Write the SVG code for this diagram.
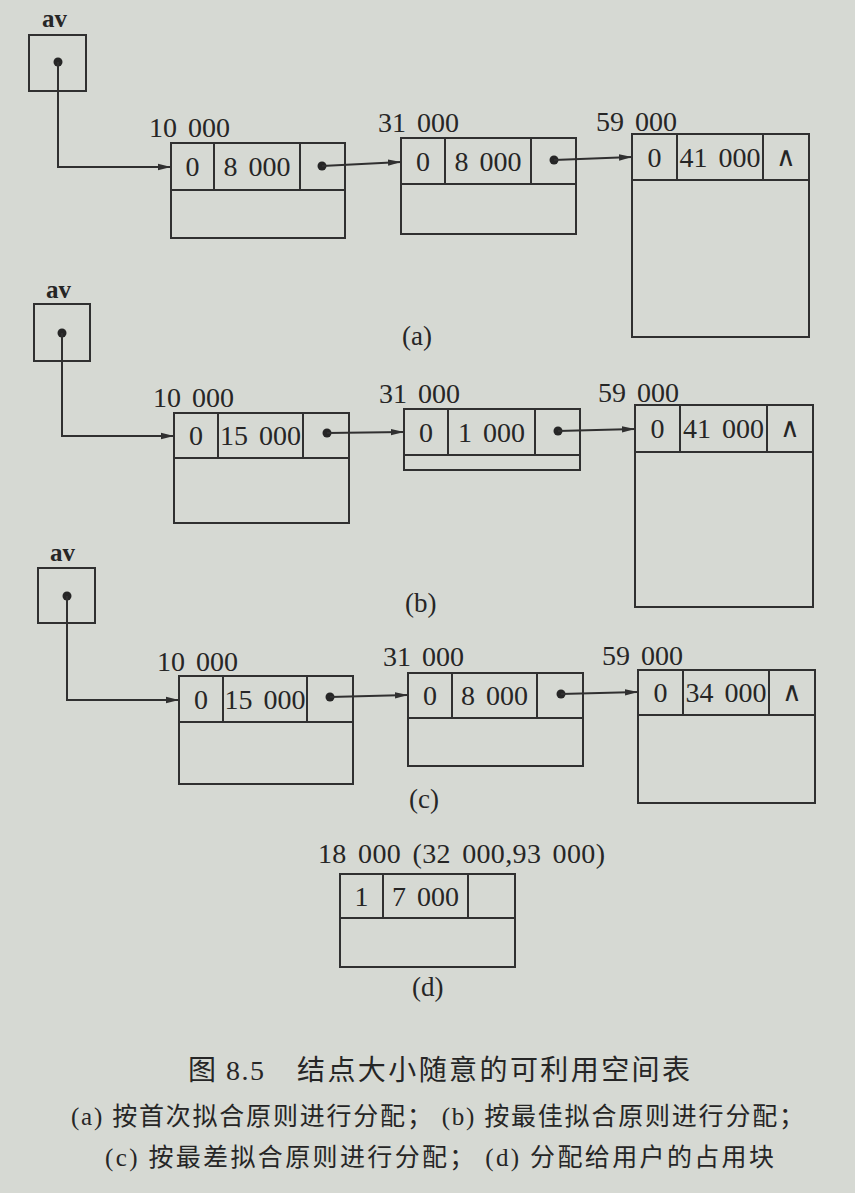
<svg xmlns="http://www.w3.org/2000/svg" width="855" height="1193" viewBox="0 0 855 1193">
<style>
.bg{fill:#d6d9d3}
.box{fill:none;stroke:#303030;stroke-width:2}
.conn{fill:none;stroke:#303030;stroke-width:2}
.num{font-family:"Liberation Serif",serif;font-size:28px;fill:#262626;word-spacing:4px}
.c{text-anchor:middle}
.nil{font-family:"DejaVu Serif",serif;font-size:27px;fill:#262626;text-anchor:middle}
.av{font-family:"Liberation Serif",serif;font-weight:bold;font-size:25px;fill:#262626}
.sub{font-family:"Liberation Serif",serif;font-size:27px;fill:#262626}
.cap{font-family:"Liberation Serif","Noto Sans CJK SC",sans-serif;fill:#262626}
.dot{fill:#262626}
</style>
<defs>
<marker id="ah" markerUnits="userSpaceOnUse" markerWidth="14" markerHeight="8" refX="13" refY="4" orient="auto">
<path d="M0,0.8 L13,4 L0,7.2 z" fill="#303030"/>
</marker>
</defs>
<rect class="bg" x="0" y="0" width="855" height="1193"/>

<!-- (a) -->
<g id="a-av">
<text class="av" x="42" y="27">av</text>
<rect class="box" x="29" y="35" width="57" height="56"/>
<circle class="dot" cx="58" cy="62" r="4.5"/>
</g>
<g id="a-n1">
<text class="num" x="149" y="137">10 000</text>
<rect class="box" x="171" y="143" width="174" height="95"/>
<path class="box" d="M171,190 H345 M214,143 V190 M300,143 V190"/>
<text class="num c" x="192.5" y="176">0</text>
<text class="num c" x="257" y="176">8 000</text>
<circle class="dot" cx="322" cy="166" r="4.5"/>
</g>
<g id="a-n2">
<text class="num" x="378" y="132">31 000</text>
<rect class="box" x="401" y="138" width="175" height="96"/>
<path class="box" d="M401,184 H576 M445,138 V184 M531,138 V184"/>
<text class="num c" x="423" y="171">0</text>
<text class="num c" x="488" y="171">8 000</text>
<circle class="dot" cx="554" cy="160" r="4.5"/>
</g>
<g id="a-n3">
<text class="num" x="596" y="131">59 000</text>
<rect class="box" x="632" y="134" width="177" height="203"/>
<path class="box" d="M632,180 H809 M677,134 V180 M763,134 V180"/>
<text class="num c" x="654.5" y="167">0</text>
<text class="num c" x="720" y="167">41 000</text>
<text class="nil" x="786" y="166">∧</text>
</g>
<text class="sub" x="402" y="345">(a)</text>

<!-- (b) -->
<g id="b-av">
<text class="av" x="46" y="298">av</text>
<rect class="box" x="34" y="304" width="56" height="57"/>
<circle class="dot" cx="62" cy="333" r="4.5"/>
</g>
<g id="b-n1">
<text class="num" x="153" y="407">10 000</text>
<rect class="box" x="174" y="413" width="175" height="110"/>
<path class="box" d="M174,458 H349 M218,413 V458 M303,413 V458"/>
<text class="num c" x="196" y="445">0</text>
<text class="num c" x="260.5" y="445">15 000</text>
<circle class="dot" cx="327" cy="433" r="4.5"/>
</g>
<g id="b-n2">
<text class="num" x="379" y="403">31 000</text>
<rect class="box" x="404" y="409" width="176" height="61"/>
<path class="box" d="M404,455 H580 M448,409 V455 M535,409 V455"/>
<text class="num c" x="426" y="442">0</text>
<text class="num c" x="491.5" y="442">1 000</text>
<circle class="dot" cx="558" cy="431" r="4.5"/>
</g>
<g id="b-n3">
<text class="num" x="598" y="402">59 000</text>
<rect class="box" x="635" y="405" width="178" height="202"/>
<path class="box" d="M635,452 H813 M680,405 V452 M767,405 V452"/>
<text class="num c" x="657.5" y="438">0</text>
<text class="num c" x="723.5" y="438">41 000</text>
<text class="nil" x="790" y="437">∧</text>
</g>
<text class="sub" x="405" y="612">(b)</text>

<!-- (c) -->
<g id="c-av">
<text class="av" x="50" y="561">av</text>
<rect class="box" x="38" y="568" width="57" height="55"/>
<circle class="dot" cx="67" cy="596" r="4.5"/>
</g>
<g id="c-n1">
<text class="num" x="157" y="671">10 000</text>
<rect class="box" x="179" y="676" width="174" height="108"/>
<path class="box" d="M179,722 H353 M223,676 V722 M307,676 V722"/>
<text class="num c" x="201" y="709">0</text>
<text class="num c" x="265" y="709">15 000</text>
<circle class="dot" cx="330" cy="697" r="4.5"/>
</g>
<g id="c-n2">
<text class="num" x="383" y="666">31 000</text>
<rect class="box" x="408" y="673" width="175" height="93"/>
<path class="box" d="M408,718 H583 M452,673 V718 M537,673 V718"/>
<text class="num c" x="430" y="705">0</text>
<text class="num c" x="494.5" y="705">8 000</text>
<circle class="dot" cx="561" cy="694" r="4.5"/>
</g>
<g id="c-n3">
<text class="num" x="602" y="665">59 000</text>
<rect class="box" x="638" y="670" width="177" height="133"/>
<path class="box" d="M638,715 H815 M683,670 V715 M769,670 V715"/>
<text class="num c" x="660.5" y="702">0</text>
<text class="num c" x="726" y="702">34 000</text>
<text class="nil" x="792" y="701">∧</text>
</g>
<text class="sub" x="409" y="808">(c)</text>

<!-- (d) -->
<g id="d-n1">
<text class="num" x="318" y="863" textLength="287" lengthAdjust="spacing">18 000 (32 000,93 000)</text>
<rect class="box" x="340" y="874" width="175" height="93"/>
<path class="box" d="M340,918 H515 M383,874 V918 M468,874 V918"/>
<text class="num c" x="361.5" y="906">1</text>
<text class="num c" x="425.5" y="906">7 000</text>
</g>
<text class="sub" x="412" y="996">(d)</text>

<!-- connectors -->
<g id="connectors">
<path class="conn" d="M58,62 V167 H171" marker-end="url(#ah)"/>
<path class="conn" d="M322,166 L401,162" marker-end="url(#ah)"/>
<path class="conn" d="M554,160 L632,157" marker-end="url(#ah)"/>
<path class="conn" d="M62,333 V436 H174" marker-end="url(#ah)"/>
<path class="conn" d="M327,433 L404,432" marker-end="url(#ah)"/>
<path class="conn" d="M558,431 L635,429" marker-end="url(#ah)"/>
<path class="conn" d="M67,596 V700 H179" marker-end="url(#ah)"/>
<path class="conn" d="M330,697 L408,695" marker-end="url(#ah)"/>
<path class="conn" d="M561,694 L638,692" marker-end="url(#ah)"/>
</g>

<!-- caption -->
<text class="cap" x="188" y="1080" font-size="28" textLength="76" lengthAdjust="spacing">图 8.5</text>
<text class="cap" x="297" y="1080" font-size="28" textLength="393" lengthAdjust="spacing">结点大小随意的可利用空间表</text>
<text class="cap" x="71" y="1125" font-size="25" textLength="733" lengthAdjust="spacing">(a) 按首次拟合原则进行分配； (b) 按最佳拟合原则进行分配；</text>
<text class="cap" x="105" y="1166" font-size="25" textLength="669" lengthAdjust="spacing">(c) 按最差拟合原则进行分配； (d) 分配给用户的占用块</text>
</svg>
